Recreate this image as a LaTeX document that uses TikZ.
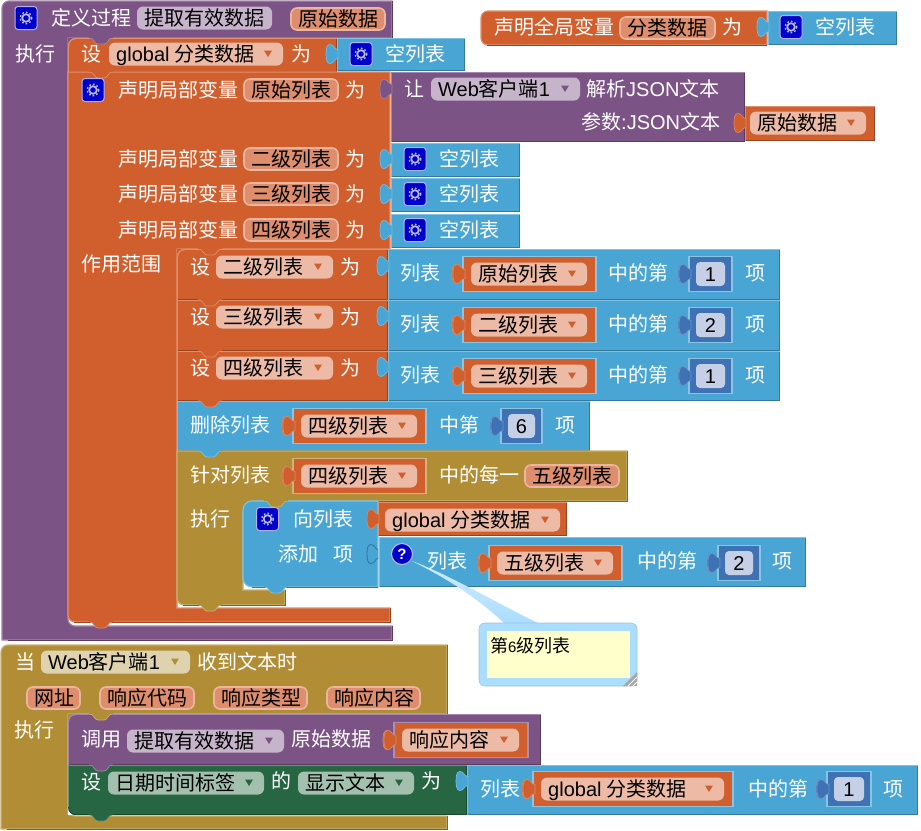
\documentclass[tikz,border=0pt]{standalone}
\usepackage{fontspec}
\setmainfont{Noto Sans CJK SC}
\newfontfamily\lat{Liberation Sans}
\definecolor{cpurple}{HTML}{7C5385}
\definecolor{corange}{HTML}{D05F2D}
\definecolor{cblue}{HTML}{49A6D4}
\definecolor{cgold}{HTML}{B18E35}
\definecolor{cgreen}{HTML}{266643}
\definecolor{cnum}{HTML}{3F71B5}
\definecolor{fdorange}{HTML}{ECBAA5}
\definecolor{fnorange}{HTML}{DE8E6C}
\definecolor{fdpurple}{HTML}{C6B4CB}
\definecolor{fdgold}{HTML}{DFD2AE}
\definecolor{fdgreen}{HTML}{A3BFAD}
\definecolor{fnum}{HTML}{C5D0E6}
\definecolor{bubble}{HTML}{AADDFF}
\definecolor{note}{HTML}{FFFFCC}
\definecolor{icon}{HTML}{0000CC}
\newcount\bnd
\tikzset{
  lbl/.style={anchor=west,inner sep=0pt,text height=17.6pt,text depth=2.4pt,font=\fontsize{20}{24}\selectfont},
  wlbl/.style={lbl,text=white},
  klbl/.style={lbl,text=black}
}
\newcommand{\bText}[3]{\global\advance\bnd by 1 \node[wlbl] (n\the\bnd) at (#1,#2) {#3};}
\newcommand{\bBlack}[3]{\global\advance\bnd by 1 \node[klbl] (n\the\bnd) at (#1,#2) {#3};}
% x1 y1 x2 y2 colour
\newcommand{\bBlk}[5]{%
  \fill[#5] (#1,#2) rectangle (#3,#4);
  \draw[#5!70!white,line width=1.2pt] (#1+.5,#4-.5) -- (#1+.5,#2+.5) -- (#3-.5,#2+.5);
  \draw[#5!72!black,line width=1pt] (#1+.5,#4-.5) -- (#3-.5,#4-.5) -- (#3-.5,#2+.5);
}
\newcommand{\bShape}[2]{\path[fill=#1,draw=#1!70!white,line width=1.2pt] #2;}
\newcommand{\bDark}[2]{\draw[#1!72!black,line width=1pt] #2;}
% rounded top-left corner of a block: x y behind block
\newcommand{\bCorner}[4]{%
  \fill[#3] (#1-.2,#2-.2) -- (#1+8,#2-.2) .. controls (#1+3,#2) and (#1,#2+3) .. (#1,#2+8) -- (#1-.2,#2+8) -- cycle;
  \draw[#4!70!white,line width=1.2pt] (#1+8,#2+.6) .. controls (#1+3.5,#2+.6) and (#1+.6,#2+3.5) .. (#1+.6,#2+8);
}
% rounded bottom-left corner: x y behind block
\newcommand{\bFoot}[4]{%
  \fill[#3] (#1-.2,#2+.2) -- (#1+8,#2+.2) .. controls (#1+3,#2) and (#1,#2-3) .. (#1,#2-8) -- (#1-.2,#2-8) -- cycle;
  \draw[#4!72!black,line width=1pt] (#1+8,#2-.5) .. controls (#1+3.5,#2-.5) and (#1+.6,#2-3.5) .. (#1+.6,#2-8);
}
% statement tab hanging below edge y at block left x
\newcommand{\bNotch}[3]{%
  \path[fill=#3,draw=#3!70!white,line width=.7pt] (#1+22,#2) .. controls (#1+26,#2) and (#1+26,#2+6) .. (#1+30,#2+6) -- (#1+36,#2+6) .. controls (#1+40,#2+6) and (#1+40,#2) .. (#1+44,#2);
  \fill[#3] (#1+21,#2-1.5) rectangle (#1+45,#2+.3);
}
\newcommand{\bTab}[3]{%
  \path[fill=#3,draw=#3!75!white,line width=.7pt] (#1+1,#2-4.5) .. controls (#1-3,#2-4.5) and (#1-3,#2-9.5) .. (#1-7,#2-9.5) .. controls (#1-10,#2-9.5) and (#1-11,#2-6) .. (#1-11,#2) .. controls (#1-11,#2+6) and (#1-10,#2+9.5) .. (#1-7,#2+9.5) .. controls (#1-3,#2+9.5) and (#1-3,#2+4.5) .. (#1+1,#2+4.5) -- cycle;
}
\newcommand{\bInlet}[2]{%
  \path[fill=cblue,draw=cblue!70!black,line width=.8pt] (#1,#2-4.5) .. controls (#1-3,#2-4.5) and (#1-3,#2-9.5) .. (#1-7,#2-9.5) .. controls (#1-10,#2-9.5) and (#1-11,#2-6) .. (#1-11,#2) .. controls (#1-11,#2+6) and (#1-10,#2+9.5) .. (#1-7,#2+9.5) .. controls (#1-3,#2+9.5) and (#1-3,#2+4.5) .. (#1,#2+4.5);
}
% name field: x1 x2 yc fill text
\newcommand{\bField}[5]{%
  \path[fill=#4,draw=#4!65!white,line width=1.6pt,rounded corners=6pt] (#1+1,#3-11) rectangle (#2-1,#3+11);
  \bBlack{#1+8}{#3}{#5}
}
% dropdown field: x1 x2 yc fill text triangle colour
\newcommand{\bDrop}[6]{%
  \fill[#4,rounded corners=6pt] (#1,#3-11.5) rectangle (#2,#3+11.5);
  \bBlack{#1+7}{#3}{#5}
  \fill[#6] (#2-19,#3-3.5) -- (#2-11,#3-3.5) -- (#2-15,#3+3) -- cycle;
}
% variable getter: x1 x2 yc text parent
\newcommand{\bVar}[5]{%
  \bTab{#1}{#3}{corange}
  \path[fill=corange,draw=#5!65!white,line width=1.6pt] (#1,#3-17.5) rectangle (#2,#3+17.5);
  \bTab{#1+1}{#3}{corange}
  \bDrop{#1+8}{#2-9}{#3}{fdorange}{#4}{corange}
}
% number block
\newcommand{\bNum}[4]{%
  \bTab{#1}{#3}{cnum}
  \path[fill=cnum,draw=cblue!65!white,line width=1.4pt] (#1,#3-17.5) rectangle (#2,#3+17.5);
  \bTab{#1+1}{#3}{cnum}
  \fill[fnum,rounded corners=4pt] (#1+7,#3-12) rectangle (#2-7,#3+12);
  \global\advance\bnd by 1
  \node[klbl,anchor=center,text height=15pt,text depth=0pt] (n\the\bnd) at ({(#1+#2)/2},#3) {\lat #4};
}
% gear icon
\newcommand{\bGear}[2]{%
  \path[fill=icon,draw=white!70!icon,line width=1pt,rounded corners=3pt] (#1-11,#2-11.5) rectangle (#1+11,#2+11.5);
  \draw[white!75!icon,line width=1.7pt] (#1,#2) circle (3.8);
  \draw[white!75!icon,line width=1.4pt,dash pattern=on 1.7pt off 2.1pt] (#1,#2) circle (5.7);
}
\begin{document}
\begin{tikzpicture}[x=1pt,y=-1pt]
\useasboundingbox (0,0) rectangle (921,830);
\fill[white] (0,0) rectangle (921,830);

% ---- procedure definition ----
\bShape{cpurple}{[rounded corners=7pt] (2,640) -- (2,1) [sharp corners] -- (392,1) -- (392,38) -- (68,38) [rounded corners=7pt] -- (68,626) [sharp corners] -- (392,626) -- (392,640) -- cycle}
\bDark{cpurple}{(8,640) -- (392,640) -- (392,626)}
\bDark{cpurple}{(392,38) -- (392,1)}
\bGear{26}{18}
\bText{51}{18}{定义过程}
\bDrop{137}{272}{18}{fdpurple}{提取有效数据}{fdpurple}
\bField{290}{386}{19}{fnorange}{原始数据}
\bText{15}{54}{执行}

% set global
\bBlk{68}{38}{337}{72}{corange}
\bCorner{68}{38}{cpurple}{corange}
\bText{81}{54}{设}
\bDrop{109}{283}{54}{fdorange}{{\lat global} 分类数据}{corange}
\bText{291}{54}{为}
\bBlk{337}{38}{465}{71}{cblue}
\bTab{337}{54}{cblue}
\bGear{361}{54}
\bText{385}{54}{空列表}

% local declaration
\bShape{corange}{(390,622) [rounded corners=7pt] -- (68,622) [sharp corners] -- (68,72) -- (390,72) -- (390,249) -- (177,249) -- (177,608) -- (390,608) -- cycle}
\bDark{corange}{(74,622) -- (390,622) -- (390,608)}
\bNotch{68}{38}{cpurple}
\bNotch{68}{72}{corange}
\bNotch{68}{622}{corange}
\bGear{93}{90}
\bText{118}{90}{声明局部变量}
\bField{243}{339}{90}{fnorange}{原始列表}
\bText{345}{90}{为}
\bText{118}{159}{声明局部变量}
\bField{243}{339}{159}{fnorange}{二级列表}
\bText{345}{159}{为}
\bText{118}{194}{声明局部变量}
\bField{243}{339}{194}{fnorange}{三级列表}
\bText{345}{194}{为}
\bText{118}{230}{声明局部变量}
\bField{243}{339}{230}{fnorange}{四级列表}
\bText{345}{230}{为}
\bText{81}{264}{作用范围}

% let Web parse
\bBlk{391}{72}{745}{142}{cpurple}
\bTab{391}{89}{cpurple}
\bText{404}{89}{让}
\bDrop{431}{580}{89}{fdpurple}{{\lat Web}客户端{\lat 1}}{cpurple}
\bText{586}{89}{解析{\lat JSON}文本}
\bText{581}{122}{参数{\lat :JSON}文本}
\bBlk{745}{106}{875}{141}{corange}
\bTab{745}{123}{corange}
\bDrop{750}{866}{123}{fdorange}{原始数据}{corange}

% empty lists
\bBlk{391}{143}{520}{177}{cblue}
\bTab{391}{159}{cblue}
\bGear{415}{159}
\bText{439}{159}{空列表}
\bBlk{391}{178}{520}{212}{cblue}
\bTab{391}{194}{cblue}
\bGear{415}{194}
\bText{439}{194}{空列表}
\bBlk{391}{214}{520}{248}{cblue}
\bTab{391}{230}{cblue}
\bGear{415}{230}
\bText{439}{230}{空列表}

% set level 2
\bBlk{177}{249}{388}{300}{corange}
\bCorner{177}{249}{corange}{corange}
\bBlk{177}{300}{388}{351}{corange}
\bBlk{177}{351}{388}{401}{corange}
\bNotch{177}{249}{corange}
\bNotch{177}{300}{corange}
\bNotch{177}{351}{corange}
\bText{190}{267}{设}
\bDrop{216}{333}{267}{fdorange}{二级列表}{corange}
\bText{340}{267}{为}
\bText{190}{317}{设}
\bDrop{216}{333}{317}{fdorange}{三级列表}{corange}
\bText{340}{317}{为}
\bText{190}{368}{设}
\bDrop{216}{333}{368}{fdorange}{四级列表}{corange}
\bText{340}{368}{为}

\bBlk{388}{249}{780}{300}{cblue}
\bTab{388}{266}{cblue}
\bText{400}{273}{列表}
\bVar{463}{596}{274}{原始列表}{cblue}
\bText{608}{273}{中的第}
\bNum{689}{732}{274}{1}
\bText{745}{273}{项}

\bBlk{388}{300}{780}{351}{cblue}
\bTab{388}{316}{cblue}
\bText{400}{324}{列表}
\bVar{463}{596}{325}{二级列表}{cblue}
\bText{608}{324}{中的第}
\bNum{689}{732}{325}{2}
\bText{745}{324}{项}

\bBlk{388}{351}{780}{401}{cblue}
\bTab{388}{367}{cblue}
\bText{400}{375}{列表}
\bVar{463}{596}{376}{三级列表}{cblue}
\bText{608}{375}{中的第}
\bNum{689}{732}{376}{1}
\bText{745}{375}{项}

% delete
\bBlk{177}{401}{590}{451}{cblue}
\bNotch{177}{401}{corange}
\bText{190}{425}{删除列表}
\bVar{293}{426}{426}{四级列表}{cblue}
\bText{439}{425}{中第}
\bNum{501}{542}{426}{6}
\bText{555}{425}{项}

% foreach
\bShape{cgold}{(285,605) [rounded corners=7pt] -- (177,605) [sharp corners] -- (177,451) -- (627,451) -- (627,501) -- (243,501) -- (243,590) -- (285,590) -- cycle}
\bDark{cgold}{(183,605) -- (285,605) -- (285,590)}
\bDark{cgold}{(243,501) -- (627,501) -- (627,451)}
\bNotch{177}{451}{cblue}
\bNotch{177}{605}{cgold}
\bText{190}{475}{针对列表}
\bVar{293}{426}{476}{四级列表}{cgold}
\bText{439}{475}{中的每一}
\bField{524}{620}{476}{fnorange}{五级列表}
\bText{190}{519}{执行}

% add to list
\fill[cgold] (242,500) rectangle (254,512);
\bShape{cblue}{[rounded corners=9pt] (243,587) -- (243,501) [sharp corners] -- (378,501) -- (378,587) [rounded corners=9pt] -- cycle}
\bDark{cblue}{(252,587) -- (378,587)}
\bNotch{243}{501}{cgold}
\bNotch{243}{587}{cblue}
\bGear{267.5}{519}
\bText{293}{519}{向列表}
\bText{278}{554}{添加}
\bText{333}{554}{项}
\bBlk{378}{502}{567}{536}{corange}
\bTab{378}{519}{corange}
\bDrop{385}{560}{520}{fdorange}{{\lat global} 分类数据}{corange}
\bBlk{379}{537}{806}{587}{cblue}
\bInlet{378}{554}
\path[fill=icon,draw=white!75!icon,line width=1pt] (402,554) circle (10.5);
\global\advance\bnd by 1
\node[anchor=center,inner sep=0pt,text=white,font=\fontsize{15}{18}\selectfont\bfseries\lat] (n\the\bnd) at (402,554) {?};
\bText{427}{561}{列表}
\bVar{489}{622}{563}{五级列表}{cblue}
\bText{637}{561}{中的第}
\bNum{718}{760}{563}{2}
\bText{772}{561}{项}

% comment bubble
\path[top color=bubble!55!white,bottom color=bubble] (412,561) .. controls (450,580) and (480,600) .. (505,624) -- (540,624) .. controls (500,605) and (450,575) .. (412,561) -- cycle;
\path[fill=bubble,draw=bubble!85!black!90,line width=.6pt,rounded corners=6pt] (479,623) rectangle (637,686);
\fill[note] (487,631) rectangle (630,678);
\fill[black!35] (637,672) -- (637,686) -- (623,686) -- cycle;
\draw[white,line width=.8pt] (628,686) -- (637,677) (633,686) -- (637,682);
\global\advance\bnd by 1
\node[klbl,font=\fontsize{18}{22}\selectfont,text height=15.8pt,text depth=2.2pt] (n\the\bnd) at (490,646) {第{\lat\fontsize{15}{18}\selectfont 6}级列表};

% global declaration
\bShape{corange}{[rounded corners=7pt] (481,45) -- (481,11) [sharp corners] -- (767,11) -- (767,45) [rounded corners=7pt] -- cycle}
\bDark{corange}{(487,45) -- (767,45)}
\bText{494}{27}{声明全局变量}
\bField{619}{716}{28}{fnorange}{分类数据}
\bText{722}{27}{为}
\bBlk{768}{11}{897}{45}{cblue}
\bTab{768}{27}{cblue}
\bGear{791}{27}
\bText{815}{27}{空列表}

% ---- web event ----
\bShape{cgold}{[rounded corners=7pt] (1,829) -- (1,645) [sharp corners] -- (447,645) -- (447,714) -- (68,714) [rounded corners=7pt] -- (68,816) [sharp corners] -- (447,816) -- (447,829) -- cycle}
\bDark{cgold}{(7,829) -- (447,829) -- (447,816)}
\bDark{cgold}{(447,714) -- (447,645)}
\bText{15}{662}{当}
\bDrop{41}{190}{662}{fdgold}{{\lat Web}客户端{\lat 1}}{cgold}
\bText{197}{662}{收到文本时}
\bField{26}{81}{698}{fnorange}{网址}
\bField{99}{195}{698}{fnorange}{响应代码}
\bField{213}{308}{698}{fnorange}{响应类型}
\bField{326}{421}{698}{fnorange}{响应内容}
\bText{14}{730}{执行}

\bBlk{68}{714}{541}{765}{cpurple}
\bCorner{68}{714}{cgold}{cpurple}
\bNotch{68}{714}{cgold}
\bText{81}{739}{调用}
\bDrop{127}{284}{741}{fdpurple}{提取有效数据}{cpurple}
\bText{291}{739}{原始数据}
\bVar{394}{528}{740}{响应内容}{cpurple}

\bBlk{68}{765}{467}{815}{cgreen}
\bFoot{68}{815}{white}{cgreen}
\bNotch{68}{765}{cpurple}
\bNotch{68}{815}{cgreen}
\bText{81}{782}{设}
\bDrop{108}{264}{783}{fdgreen}{日期时间标签}{cgreen}
\bText{271}{781}{的}
\bDrop{298}{414}{783}{fdgreen}{显示文本}{cgreen}
\bText{421}{781}{为}
\bBlk{467}{765}{918}{815}{cblue}
\bTab{467}{781}{cblue}
\bText{480}{789}{列表}
\bVar{533}{733}{789}{{\lat global} 分类数据}{cblue}
\bText{748}{789}{中的第}
\bNum{827}{871}{789}{1}
\bText{883}{789}{项}
\end{tikzpicture}
\end{document}
